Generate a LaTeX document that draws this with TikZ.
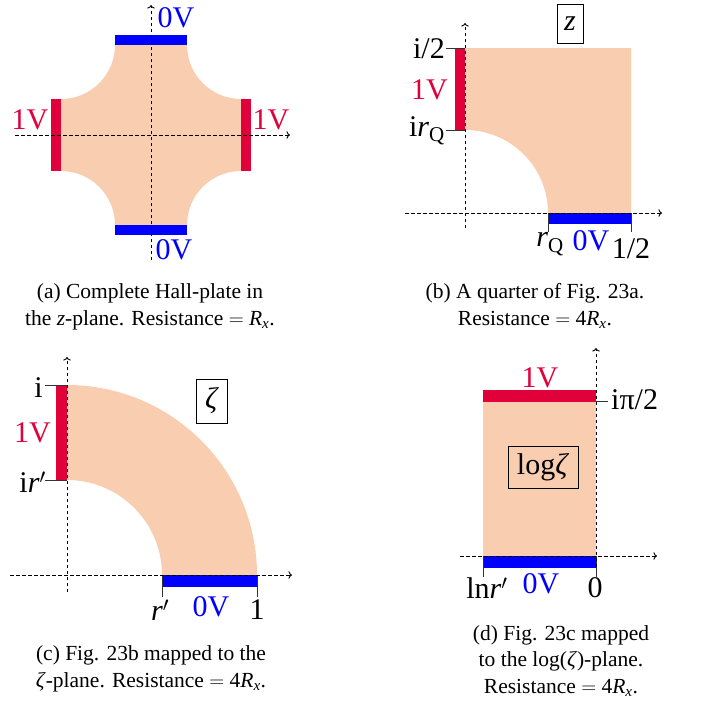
\documentclass[tikz,border=0pt]{standalone}
\usepackage{fontspec}
\setmainfont{Liberation Serif}
\usetikzlibrary{arrows.meta}
\definecolor{plate}{RGB}{248,205,176}
\definecolor{hotred}{RGB}{224,0,58}
\definecolor{gndblue}{RGB}{0,0,255}
\newcommand{\lblfont}{\fontsize{30}{32}\selectfont}
\newcommand{\capfont}{\fontsize{21.5}{26.5}\selectfont}

\begin{document}
\begin{tikzpicture}[x=1pt, y=-1pt,
 axis/.style={dash pattern=on 3.5pt off 2.5pt, line width=0.9pt, ->},
 tick/.style={line width=0.9pt, black!80},
 lab/.style={font=\lblfont, inner sep=0pt},
 mapbox/.style={draw, line width=0.7pt, font=\lblfont, inner sep=0pt},
 caption/.style={align=center, font=\capfont, inner sep=0pt}]
 \useasboundingbox (0,0) rectangle (702,702);
 \fill[plate] (115,45) -- (187,45) arc[start angle=180, end angle=90, radius=54] -- (241,171) arc[start angle=270, end angle=180, radius=54] -- (115,225) arc[start angle=0, end angle=-90, radius=54] -- (61,99) arc[start angle=90, end angle=0, radius=54] -- cycle;
 \fill[gndblue] (115,35) rectangle (187,45);
 \fill[gndblue] (115,225) rectangle (187,235);
 \fill[hotred] (51,99) rectangle (61,171);
 \fill[hotred] (241,99) rectangle (251,171);
 \coordinate (a-w) at (15,135);
 \coordinate (a-e) at (290,135);
 \coordinate (a-s) at (151,260);
 \coordinate (a-n) at (151,5);
 \draw[axis] (a-w) -- (a-e);
 \draw[axis] (a-s) -- (a-n);
 \node[lab, text=gndblue] (a-top) at (176,18){0V};
 \node[lab, text=gndblue] (a-bot) at (174,250){0V};
 \node[lab, text=hotred] (a-left) at (30,120){1V};
 \node[lab, text=hotred] (a-right) at (271,120){1V};
 \node[caption] (a-cap) at (150,307){(a) Complete Hall-plate in\\the \textit{z}-plane. Resistance $=$ \textit{R}\textsubscript{\textit{x}}.};

 \fill[plate] (548,213) -- (631,213) -- (631,48) -- (465,48) -- (465,130) arc[start angle=-90, end angle=0, radius=83] -- cycle;
 \fill[hotred] (455,48) rectangle (465,130);
 \fill[gndblue] (548,213) rectangle (631,224);
 \coordinate (b-w) at (405,213);
 \coordinate (b-e) at (662,213);
 \coordinate (b-s) at (465,228);
 \coordinate (b-n) at (465,23);
 \coordinate (b-half) at (465,48);
 \coordinate (b-rq) at (465,130);
 \coordinate (b-rqx) at (548,213);
 \coordinate (b-halfx) at (631,213);
 \draw[tick] (b-half) -- ++(-19,0) coordinate (b-halft);
 \draw[tick] (b-rq) -- ++(-19,0) coordinate (b-rqt);
 \draw[tick] (b-rqx) -- ++(0,19) coordinate (b-rqxt);
 \draw[tick] (b-halfx) -- ++(0,19) coordinate (b-halfxt);
 \draw[axis] (b-w) -- (b-e);
 \draw[axis] (b-s) -- (b-n);
 \node[lab, anchor=east] (b-ihalf) at (445,49){i/2};
 \node[lab, anchor=east, text=hotred] (b-volt) at (448,90){1V};
 \node[lab, anchor=east] (b-irq) at (445,131){i\textit{r}\textsubscript{Q}};
 \node[lab] (b-rqlab) at (550,244){\textit{r}\textsubscript{Q}};
 \node[lab, text=gndblue] (b-gnd) at (591,241){0V};
 \node[lab] (b-halflab) at (631,249){1/2};
 \node[mapbox, minimum width=26, minimum height=39] (b-plane) at (570,24){\textit{z}};
 \node[caption] (b-cap) at (535,306){(b) A quarter of Fig. 23a.\\Resistance $=$ 4\textit{R}\textsubscript{\textit{x}}.};

 \fill[plate] (162,575) -- (257,575) arc[start angle=0, end angle=-90, radius=190] -- (67,480) arc[start angle=-90, end angle=0, radius=95] -- cycle;
 \fill[hotred] (56,385) rectangle (67,480);
 \fill[gndblue] (162,575) rectangle (257,587);
 \coordinate (c-w) at (10,575);
 \coordinate (c-e) at (292,575);
 \coordinate (c-s) at (67,592);
 \coordinate (c-n) at (67,357);
 \coordinate (c-one) at (67,385);
 \coordinate (c-rp) at (67,480);
 \coordinate (c-rpx) at (162,575);
 \coordinate (c-onex) at (257,575);
 \draw[tick] (c-one) -- ++(-22,0) coordinate (c-onet);
 \draw[tick] (c-rp) -- ++(-22,0) coordinate (c-rpt);
 \draw[tick] (c-rpx) -- ++(0,22) coordinate (c-rpxt);
 \draw[tick] (c-onex) -- ++(0,22) coordinate (c-onext);
 \draw[axis] (c-w) -- (c-e);
 \draw[axis] (c-s) -- (c-n);
 \node[lab, anchor=east] (c-i) at (43,388){i};
 \node[lab, anchor=east, text=hotred] (c-volt) at (51,433){1V};
 \node[lab, anchor=east] (c-irp) at (46,482){i\textit{r}$'$};
 \node[lab] (c-rplab) at (160,610){\textit{r}$'$};
 \node[lab, text=gndblue] (c-gnd) at (211,607){0V};
 \node[lab] (c-onelab) at (257,610){1};
 \node[mapbox, minimum width=31, minimum height=44] (c-plane) at (212,401){\textit{ζ}};
 \node[caption] (c-cap) at (151,669){(c) Fig. 23b mapped to the\\\textit{ζ}-plane. Resistance $=$ 4\textit{R}\textsubscript{\textit{x}}.};

 \fill[plate] (483,402) rectangle (596,556);
 \fill[hotred] (483,390) rectangle (596,402);
 \fill[gndblue] (483,556) rectangle (596,568);
 \coordinate (d-w) at (460,556);
 \coordinate (d-e) at (657,556);
 \coordinate (d-s) at (596,567);
 \coordinate (d-n) at (596,348);
 \coordinate (d-top) at (596,401);
 \coordinate (d-lnx) at (483,556);
 \coordinate (d-zero) at (596,556);
 \draw[tick] (d-top) -- ++(12,0) coordinate (d-topt);
 \draw[tick] (d-lnx) -- ++(0,21) coordinate (d-lnxt);
 \draw[tick] (d-zero) -- ++(0,21) coordinate (d-zerot);
 \draw[axis] (d-w) -- (d-e);
 \draw[axis] (d-s) -- (d-n);
 \node[lab, text=hotred] (d-volt) at (540,378){1V};
 \node[lab, anchor=west] (d-ipi) at (611,400){iπ/2};
 \node[lab] (d-lnlab) at (487,588){ln\textit{r}$'$};
 \node[lab, text=gndblue] (d-gnd) at (541,584){0V};
 \node[lab] (d-zerolab) at (595,588){0};
 \node[mapbox, minimum width=70, minimum height=42] (d-plane) at (543,467){log\textit{ζ}};
 \node[caption] (d-cap) at (561,661){(d) Fig. 23c mapped\\to the log(\textit{ζ})-plane.\\Resistance $=$ 4\textit{R}\textsubscript{\textit{x}}.};
\end{tikzpicture}
\end{document}
